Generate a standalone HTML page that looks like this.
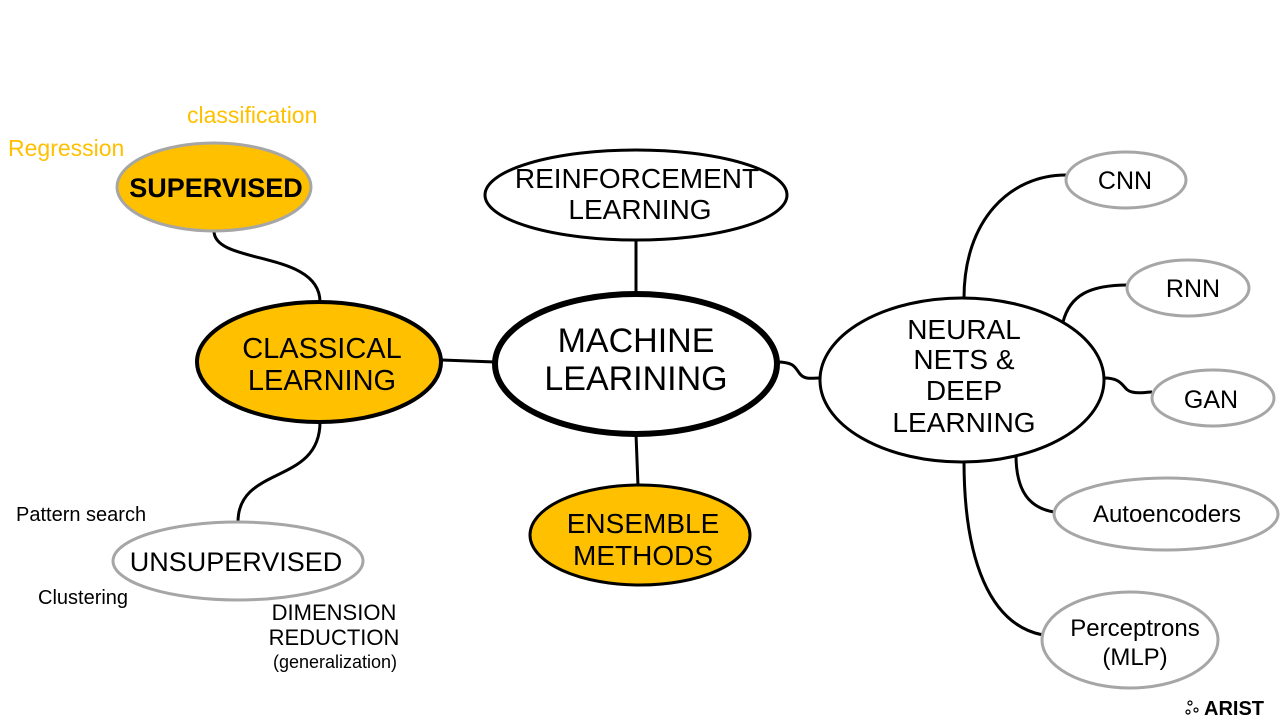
<!DOCTYPE html>
<html><head><meta charset="utf-8"><style>
html,body{margin:0;padding:0;background:#fff;}
svg{display:block;font-family:"Liberation Sans",sans-serif;}
</style></head><body>
<svg width="1280" height="720" viewBox="0 0 1280 720" xmlns="http://www.w3.org/2000/svg">
<g fill="none" stroke="#000" stroke-width="3">
<path d="M214,231 C214,265 320,250 320,302"/>
<path d="M320,422 C320,485 238,465 238,522"/>
<path d="M442,360 L495,362"/>
<path d="M636,294 L636,240"/>
<path d="M636,434 L638,486"/>
<path d="M777,362 C795,362 795,368 800,374 C805,380 812,378 821,378"/>
<path d="M964,298 C964,220 1010,175 1066,175"/>
<path d="M1063,322 C1070,295 1090,285 1128,285"/>
<path d="M1104,378 C1125,378 1122,390 1132,392 C1140,394 1145,392 1152,392"/>
<path d="M1016,455 C1016,492 1030,508 1054,512"/>
<path d="M964,461 C964,560 990,625 1043,635"/>
</g>
<ellipse cx="214" cy="187" rx="97" ry="44" fill="#FFC000" stroke="#A6A6A6" stroke-width="3"/>
<ellipse cx="319" cy="362" rx="122" ry="60" fill="#FFC000" stroke="#000" stroke-width="4"/>
<ellipse cx="238" cy="561" rx="125" ry="39" fill="#fff" stroke="#A6A6A6" stroke-width="3"/>
<ellipse cx="636" cy="364" rx="141" ry="70" fill="#fff" stroke="#000" stroke-width="6"/>
<ellipse cx="636" cy="195" rx="151" ry="45" fill="#fff" stroke="#000" stroke-width="3"/>
<ellipse cx="640" cy="535" rx="110" ry="50" fill="#FFC000" stroke="#000" stroke-width="3"/>
<ellipse cx="962" cy="380" rx="142" ry="82" fill="#fff" stroke="#000" stroke-width="3"/>
<g fill="#fff" stroke="#A6A6A6" stroke-width="3">
<ellipse cx="1126" cy="180" rx="60" ry="28"/>
<ellipse cx="1188" cy="288" rx="61" ry="28"/>
<ellipse cx="1213" cy="398" rx="61" ry="28"/>
<ellipse cx="1166" cy="514" rx="112" ry="36"/>
<ellipse cx="1130" cy="640" rx="88" ry="48"/>
</g>
<g text-anchor="middle" fill="#000">
<text x="216" y="197" font-size="27" font-weight="bold">SUPERVISED</text>
<text x="322" y="358" font-size="29">CLASSICAL</text>
<text x="322" y="390" font-size="29">LEARNING</text>
<text x="236" y="571" font-size="27">UNSUPERVISED</text>
<text x="636" y="352" font-size="34">MACHINE</text>
<text x="636" y="390" font-size="34">LEARINING</text>
<text x="637" y="188" font-size="28">REINFORCEMENT</text>
<text x="640" y="219" font-size="28">LEARNING</text>
<text x="643" y="533" font-size="28">ENSEMBLE</text>
<text x="643" y="565" font-size="28">METHODS</text>
<text x="964" y="339" font-size="28">NEURAL</text>
<text x="964" y="369" font-size="28">NETS &amp;</text>
<text x="964" y="400" font-size="28">DEEP</text>
<text x="964" y="432" font-size="28">LEARNING</text>
<text x="1125" y="189" font-size="25">CNN</text>
<text x="1193" y="297" font-size="25">RNN</text>
<text x="1211" y="408" font-size="25">GAN</text>
<text x="1167" y="522" font-size="24">Autoencoders</text>
<text x="1135" y="636" font-size="24">Perceptrons</text>
<text x="1135" y="665" font-size="24">(MLP)</text>
<text x="334" y="620" font-size="22">DIMENSION</text>
<text x="334" y="645" font-size="22">REDUCTION</text>
<text x="335" y="668" font-size="18">(generalization)</text>
</g>
<g fill="#000" font-size="20">
<text x="16" y="521">Pattern search</text>
<text x="38" y="604">Clustering</text>
</g>
<g fill="#FFC000" font-size="23">
<text x="187" y="123">classification</text>
<text x="8" y="156">Regression</text>
</g>
<g>
<circle cx="1190" cy="703" r="2" fill="none" stroke="#000" stroke-width="1.2"/>
<circle cx="1196" cy="710" r="2" fill="none" stroke="#000" stroke-width="1.2"/>
<circle cx="1188" cy="712" r="2" fill="none" stroke="#000" stroke-width="1.2"/>
<text x="1204" y="715" font-size="20" font-weight="bold" fill="#000">ARIST</text>
</g>
</svg>
</body></html>
